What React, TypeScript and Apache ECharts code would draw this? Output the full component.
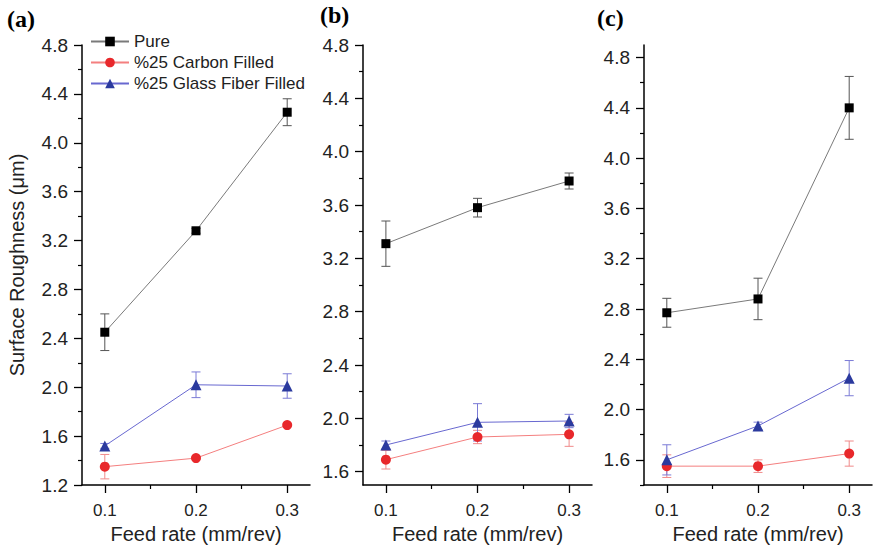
import React, { useEffect, useRef } from "react";
import * as echarts from "echarts";

const feedRates = [0.1, 0.2, 0.3];
const xMajorTicks = [0.1, 0.2, 0.3];
const xMinorTicks = [0.15, 0.25];

// Panel (a)
const aPure = [2.45, 3.28, 4.25];
const aPureErr = [0.15, 0.02, 0.11];
const aCarbon = [1.35, 1.42, 1.69];
const aCarbonErr = [0.1, 0.01, 0.01];
const aGlass = [1.52, 2.02, 2.01];
const aGlassErr = [0.02, 0.105, 0.1];

// Panel (b)
const bPure = [3.31, 3.58, 3.78];
const bPureErr = [0.17, 0.07, 0.06];
const bCarbon = [1.69, 1.86, 1.88];
const bCarbonErr = [0.07, 0.05, 0.09];
const bGlass = [1.8, 1.97, 1.98];
const bGlassErr = [0.03, 0.14, 0.05];

// Panel (c)
const cPure = [2.77, 2.88, 4.4];
const cPureErr = [0.115, 0.165, 0.25];
const cCarbon = [1.55, 1.55, 1.65];
const cCarbonErr = [0.09, 0.05, 0.1];
const cGlass = [1.6, 1.87, 2.25];
const cGlassErr = [0.12, 0.03, 0.14];

// Y tick labels
const aYMajor = [1.2, 1.6, 2.0, 2.4, 2.8, 3.2, 3.6, 4.0, 4.4, 4.8];
const aYMinor = [1.4, 1.8, 2.2, 2.6, 3.0, 3.4, 3.8, 4.2, 4.6];
const bYMajor = [1.6, 2.0, 2.4, 2.8, 3.2, 3.6, 4.0, 4.4, 4.8];
const bYMinor = [1.8, 2.2, 2.6, 3.0, 3.4, 3.8, 4.2, 4.6];
const cYMajor = [1.6, 2.0, 2.4, 2.8, 3.2, 3.6, 4.0, 4.4, 4.8];
const cYMinor = [1.4, 1.8, 2.2, 2.6, 3.0, 3.4, 3.8, 4.2, 4.6];

const seriesNames = ["Pure", "%25 Carbon Filled", "%25 Glass Fiber Filled"];

const FONT = "'Liberation Sans', Arial, Helvetica, sans-serif";
const PANEL_FONT = "bold 24px 'Liberation Serif', 'Times New Roman', serif";

const styles = [
  { symbol: "rect", size: 9, line: "#7a7a7a", item: "#000000", err: "#555555" },
  { symbol: "circle", size: 10, line: "#f47f7f", item: "#e8282b", err: "#f08a8a" },
  { symbol: "triangle", size: 11, line: "#6868d0", item: "#2b3a9e", err: "#7b7bd6" },
];

const panels = [
  { left: 82, width: 228, ymin: 1.2, ymax: 4.8, major: aYMajor, minor: aYMinor, vals: [aPure, aCarbon, aGlass], errs: [aPureErr, aCarbonErr, aGlassErr], yName: "Surface Roughness (μm)" },
  { left: 363, width: 229, ymin: 1.5, ymax: 4.8, major: bYMajor, minor: bYMinor, vals: [bPure, bCarbon, bGlass], errs: [bPureErr, bCarbonErr, bGlassErr], yName: "" },
  { left: 644, width: 228, ymin: 1.4, ymax: 4.9, major: cYMajor, minor: cYMinor, vals: [cPure, cCarbon, cGlass], errs: [cPureErr, cCarbonErr, cGlassErr], yName: "" },
];

export default function App() {
  const ref = useRef<HTMLDivElement>(null);
  useEffect(() => {
    if (!ref.current) return;
    const chart = echarts.init(ref.current, undefined, { renderer: "svg" });
    const grid: any[] = [];
    const xAxis: any[] = [];
    const yAxis: any[] = [];
    const series: any[] = [];
    const n = panels.length;
    panels.forEach((p, i) => {
      grid.push({ left: p.left, top: 45, width: p.width, height: 440, containLabel: false, outerBoundsMode: "none" });
      xAxis[i] = {
        type: "value", gridIndex: i, min: 0.075, max: 0.325,
        axisLine: { show: true, lineStyle: { color: "#000", width: 1.5 } },
        axisTick: { show: true, length: 8, inside: false, customValues: xMajorTicks, lineStyle: { color: "#000", width: 1.3 } },
        axisLabel: { show: true, customValues: xMajorTicks, formatter: (v: number) => v.toFixed(1), fontSize: 17, color: "#222", fontFamily: FONT, margin: 17 },
        splitLine: { show: false },
        name: "Feed rate (mm/rev)", nameLocation: "middle", nameGap: 38,
        nameTextStyle: { fontSize: 20, color: "#222", fontFamily: FONT },
      };
      xAxis[n + i] = {
        type: "value", gridIndex: i, min: 0.075, max: 0.325, position: "bottom",
        axisLine: { show: false },
        axisTick: { show: true, length: 4, customValues: xMinorTicks, lineStyle: { color: "#000", width: 1.2 } },
        axisLabel: { show: false },
        splitLine: { show: false },
      };
      yAxis[i] = {
        type: "value", gridIndex: i, min: p.ymin, max: p.ymax,
        axisLine: { show: true, lineStyle: { color: "#000", width: 1.5 } },
        axisTick: { show: true, length: 8, customValues: p.major, lineStyle: { color: "#000", width: 1.3 } },
        axisLabel: { show: true, customValues: p.major, formatter: (v: number) => v.toFixed(1), fontSize: 19, color: "#222", fontFamily: FONT, margin: 14 },
        splitLine: { show: false },
        name: p.yName, nameLocation: "middle", nameGap: 55,
        nameTextStyle: { fontSize: 20, color: "#222", fontFamily: FONT },
      };
      yAxis[n + i] = {
        type: "value", gridIndex: i, min: p.ymin, max: p.ymax, position: "left",
        axisLine: { show: false },
        axisTick: { show: true, length: 4, customValues: p.minor, lineStyle: { color: "#000", width: 1.2 } },
        axisLabel: { show: false },
        splitLine: { show: false },
      };
      p.vals.forEach((vals, k) => {
        const st = styles[k];
        const errs = p.errs[k];
        series.push({
          type: "custom", name: seriesNames[k] + " error", xAxisIndex: i, yAxisIndex: i, z: 1, silent: true,
          encode: { x: 0, y: [1, 2] },
          data: feedRates.map((x, j) => [x, vals[j] - errs[j], vals[j] + errs[j]]),
          renderItem: (params: any, api: any) => {
            const x = api.value(0);
            const lo = api.value(1);
            const hi = api.value(2);
            const t = api.coord([x, hi]);
            const b = api.coord([x, lo]);
            const w = 4.5;
            const style = { stroke: st.err, lineWidth: 1 };
            return {
              type: "group",
              children: [
                { type: "line", shape: { x1: t[0], y1: t[1], x2: b[0], y2: b[1] }, style },
                { type: "line", shape: { x1: t[0] - w, y1: t[1], x2: t[0] + w, y2: t[1] }, style },
                { type: "line", shape: { x1: b[0] - w, y1: b[1], x2: b[0] + w, y2: b[1] }, style },
              ],
            };
          },
        });
        series.push({
          type: "line", name: seriesNames[k], xAxisIndex: i, yAxisIndex: i, z: 3,
          data: feedRates.map((x, j) => [x, vals[j]]),
          symbol: st.symbol, symbolSize: st.size, showSymbol: true,
          lineStyle: { color: st.line, width: 1 },
          itemStyle: { color: st.item, borderWidth: 0 },
          emphasis: { disabled: true }, silent: true,
        });
      });
    });
    chart.setOption({
      animation: false,
      backgroundColor: "#ffffff",
      grid, xAxis, yAxis, series,
      legend: {
        data: seriesNames, orient: "vertical", left: 90, top: 33,
        itemWidth: 38, itemHeight: 12, itemGap: 4, padding: 0,
        textStyle: { fontSize: 17, color: "#222", fontFamily: FONT, lineHeight: 17 },
        selectedMode: false,
      },
      graphic: [
        { type: "text", left: 7, top: 7, style: { text: "(a)", font: PANEL_FONT, fill: "#000" } },
        { type: "text", left: 320, top: 3, style: { text: "(b)", font: PANEL_FONT, fill: "#000" } },
        { type: "text", left: 597, top: 6, style: { text: "(c)", font: PANEL_FONT, fill: "#000" } },
      ],
    });
    return () => chart.dispose();
  }, []);
  return <div ref={ref} style={{ position: "absolute", left: 0, top: 0, width: 874, height: 553 }} />;
}
